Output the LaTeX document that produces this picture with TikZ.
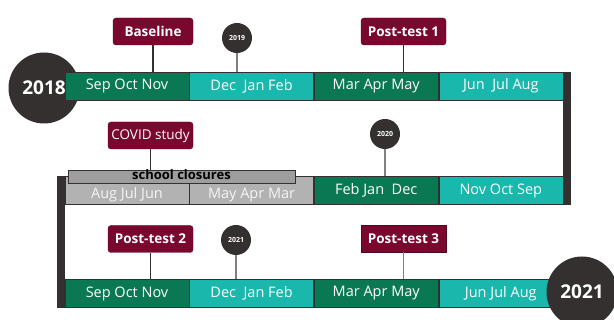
\documentclass[tikz,border=0pt]{standalone}
\usepackage{fontspec}
\setmainfont{Open Sans}
\usetikzlibrary{positioning}
\definecolor{darkgreen}{RGB}{10,120,82}
\definecolor{tealseg}{RGB}{26,184,172}
\definecolor{maroon}{RGB}{122,8,46}
\definecolor{charcoal}{RGB}{52,48,48}
\definecolor{segray}{RGB}{178,178,178}
\definecolor{closegray}{RGB}{158,158,158}
\tikzset{%
	month/.style    = {draw=charcoal, line width=0.6pt, minimum width=124pt, minimum height=28pt, inner sep=0pt, text=white, font=\fontsize{14.5}{16}\selectfont},
	dkseg/.style    = {month, fill=darkgreen},
	ltseg/.style    = {month, fill=tealseg},
	gyseg/.style    = {month, fill=segray, text=white!92!gray, text height=18pt, text depth=2pt},
	event/.style    = {fill=maroon, draw=maroon!70!black, text=white, rounded corners=3pt, minimum width=85pt, minimum height=27pt, inner sep=2pt, font=\bfseries\fontsize{13.5}{15}\selectfont},
	year/.style     = {circle, fill=charcoal, text=white, minimum size=71pt, inner sep=0pt, font=\bfseries\fontsize{19}{22}\selectfont},
	dot/.style      = {circle, fill=charcoal, text=white, minimum size=30pt, inner sep=0pt, font=\bfseries\fontsize{7}{8}\selectfont},
	stem/.style     = {line width=1.6pt, draw=charcoal},
	greystem/.style = {line width=1.6pt, draw=gray},
}
\begin{document}
\begin{tikzpicture}[x=1pt,y=-1pt]
	\useasboundingbox (0,0) rectangle (614,320);
	
	% 2018: Sep - Aug
	\node[year] (y2018) at (44,88) {2018};
	\node[dkseg] (r1a) at (127,86) {Sep Oct Nov};
	\node[ltseg, right=0pt of r1a] (r1b) {Dec\ \ Jan Feb};
	\node[dkseg, right=0pt of r1b] (r1c) {Mar Apr May};
	\node[ltseg, right=0pt of r1c] (r1d) {Jun\ \ Jul Aug};
	
	% 2019/2020, running back
	\node[gyseg] (r2a) at (127,190.5) {Aug Jul Jun};
	\node[gyseg, right=0pt of r2a] (r2b) {May Apr Mar};
	\node[dkseg, right=0pt of r2b] (r2c) {Feb Jan\ \ Dec};
	\node[ltseg, right=0pt of r2c] (r2d) {Nov Oct Sep};
	\node[draw=charcoal, line width=0.8pt, fill=closegray, minimum width=227pt, minimum height=13pt, inner sep=0pt, text height=10pt, text depth=3pt, font=\bfseries\fontsize{13}{14}\selectfont] (closed) at (181.5,176.5) {school closures};
	
	% 2020/2021
	\node[dkseg] (r3a) at (127,293.5) {Sep Oct Nov};
	\node[ltseg, right=0pt of r3a] (r3b) {Dec\ \ Jan Feb};
	\node[dkseg, right=0pt of r3b] (r3c) {Mar Apr May};
	\node[ltseg, right=0pt of r3c] (r3d) {Jun Jul Aug};
	\node[year] (y2021) at (582,292) {2021};
	
	% turns
	\fill[charcoal] (r1d.north east) rectangle ([xshift=8pt]r2d.south east);
	\fill[charcoal] (r2a.north west) rectangle ([xshift=-8pt]r3a.south west);
	
	% events
	\node[event, minimum width=80pt] (base) at (153,31.5) {Baseline};
	\node[event] (post1) at (403.5,31.5) {Post-test 1};
	\node[event, font=\fontsize{13.5}{15}\selectfont] (covid) at (150.5,135.5) {COVID study};
	\node[event] (post2) at (150.5,239) {Post-test 2};
	\node[event, rounded corners=0pt] (post3) at (403.5,238.5) {Post-test 3};
	\node[dot] (d2019) at (237,38) {2019};
	\node[dot] (d2020) at (385,134) {2020};
	\node[dot] (d2021) at (236,240) {2021};
	
	\draw[stem] (base.south) -- (base.south |- r1a.north);
	\draw[greystem] (d2019.south) -- (d2019.south |- r1b.north);
	\draw[stem] (post1.south) -- (post1.south |- r1c.north);
	\draw[stem] (covid.south) -- (covid.south |- closed.north);
	\draw[greystem] (d2020.south) -- (d2020.south |- r2c.north);
	\draw[stem] (post2.south) -- (post2.south |- r3a.north);
	\draw[greystem] (d2021.south) -- (d2021.south |- r3b.north);
	\draw[greystem] (post3.south) -- (post3.south |- r3c.north);
\end{tikzpicture}
\end{document}
